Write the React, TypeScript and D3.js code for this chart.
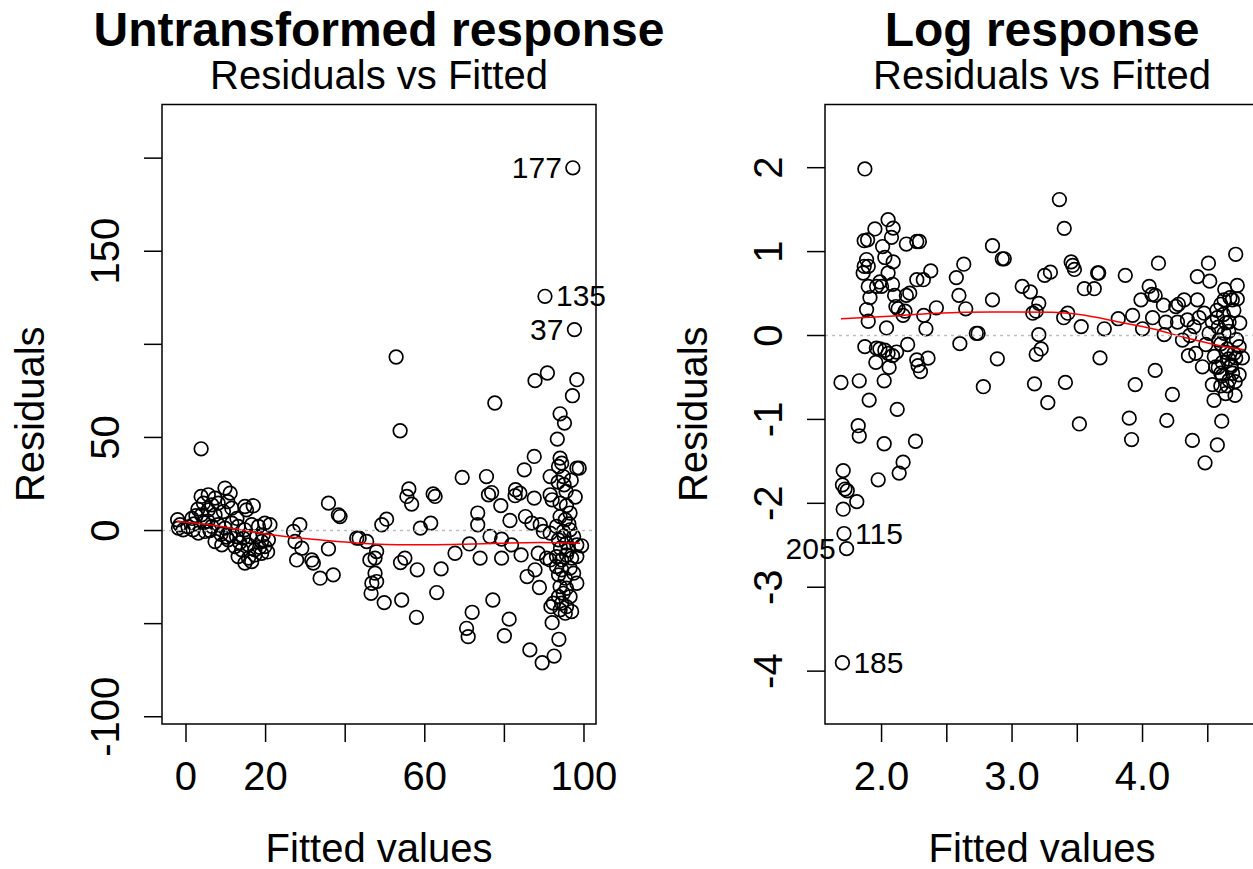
import React, { useEffect, useRef } from "react";
import * as d3 from "d3";

const FONT = '"Liberation Sans", Arial, Helvetica, sans-serif';

// Untransformed model: [fitted, residual]
const rawPoints: [number, number][] = [
  [-2.1, 5.8], [-1.5, 3.1], [-1.9, 1.3], [-0.7, 0.4], [3.8, 43.9],
  [3.8, 18.3], [5.6, 19.2], [7.3, 17.4], [9.8, 22.8], [11.1, 20.1], [4.4, 14.7], [6.5, 13.8],
  [8.1, 14.7], [5.6, 11.1], [3.9, 8.4], [7.3, 8.4], [9.4, 10.2], [11.5, 12.0], [14.8, 12.9],
  [16.9, 13.3], [15.2, 11.1], [1.8, 0.4], [3.1, -1.4], [4.8, -0.5], [6.5, 2.2], [8.1, 3.1],
  [9.8, 1.3], [11.5, 4.0], [13.1, 2.2], [14.8, 0.4], [16.5, 3.1], [18.2, 2.2], [19.8, 4.0],
  [21.1, 3.1], [7.3, -5.9], [9.0, -7.7], [10.6, -5.0], [12.3, -8.6], [14.0, -10.4], [15.7, -7.7],
  [17.3, -10.4], [19.0, -5.9], [19.8, -8.6], [13.1, -14.0], [15.7, -14.8], [17.3, -13.1],
  [19.0, -12.2], [16.5, -16.7], [14.8, -17.5], [11.1, -2.3], [12.7, -3.2], [14.4, -4.1],
  [16.1, -3.2], [17.8, -3.2], [19.4, -2.3], [20.7, -5.0], [1.5, 6.5], [2.5, 8.0], [0.5, 2.0],
  [2.0, 3.5], [5.5, 5.0], [6.0, 0.0], [8.8, -2.0], [10.2, -3.5], [4.5, 4.2], [3.0, 11.5],
  [10.5, 15.5], [12.8, 6.5], [13.5, -6.5], [18.5, -9.0], [20.5, -11.5],
  [27, -0.5], [28.6, 3.1], [27.4, -5.9], [29.1, -9.5], [27.8, -15.8], [31.6, -15.8], [32, -17.5],
  [33.7, -25.6], [37, -23.8], [35.8, 14.7], [38.3, 8.4], [38.7, 7.5], [35.8, -9.8], [42.9, -4.1],
  [52.8, 93.2], [53.8, 53.6], [77.6, 68.5], [87.7, 80.5], [90.8, 84.6], [98.2, 81], [97.1, 72.4],
  [94.0, 62.7], [95.1, 57.7], [93.3, 49.1], [87.5, 39.8], [85.0, 32.6], [94, 38.9], [93.6, 34.4],
  [94.4, 36.2], [98.2, 33.5], [98.8, 33.5], [91.5, 29.0], [94.8, 29], [95, 24.6], [69.4, 28.5],
  [75.5, 29.0], [56, 22.3], [55.5, 18.3], [56.7, 14.2], [62.1, 19.7], [62.6, 18.3], [76, 19.2],
  [76.8, 20.4], [79.1, 13.4], [82.8, 21.9], [82.7, 18.7], [87.5, 17.4], [91.5, 19.2], [92, 16.5],
  [94, 14.7], [95.6, 13.4], [96.5, 9.4], [94, 7.5], [95.3, 5.8], [73.3, 9.4], [73.3, 3.1],
  [81.4, 5.4], [85.3, 7.5], [86.9, 4.0], [89, 3.1], [89.8, -0.5], [91.5, -1.4], [93.1, 2.2],
  [94.8, -0.5], [96.5, 0.4], [97.4, -3.2], [93.6, -5.0], [95.6, -6.8], [98.2, -7.7], [99.4, -8.2],
  [43.5, -4.1], [45.4, -5.9], [47.9, -11.3], [46.2, -15.8], [47.5, -14.8], [47.5, -22.9],
  [46.7, -28.3], [47.9, -27.4], [46.5, -33.7], [49.8, -38.7], [54.2, -37.3], [57.9, -46.6],
  [49.2, 3.1], [50.4, 6.1], [53.9, -17.2], [55, -14.8], [58.1, -21.1], [58.9, 1.3], [61.5, 4.0],
  [64.1, -20.6], [63, -33.3], [67.6, -12.2], [71.2, -7.2], [73.9, -14.8], [76.4, -3.2],
  [79.3, -4.6], [79.3, -14.8], [81.8, -7.7], [84.2, -13.1], [88.5, -12.2], [90.6, -14.8],
  [91.5, -15.8], [77.1, -37.3], [71.9, -43.9], [70.5, -52.5], [70.9, -57.0], [81.2, -47.6],
  [80, -56.5], [85.7, -24.7], [87.7, -21.1], [88.8, -30.6], [86.4, -64.1], [89.5, -71.0],
  [92.5, -67.4], [93.7, -58.4], [92, -49.5], [91.7, -40.9], [92.3, -39.0],
  [93.1, -14.0], [94.4, -15.8], [95.6, -13.1], [96.9, -14.8], [98.2, -14.0], [93.1, -19.4],
  [94.4, -21.1], [96.5, -20.2], [93.6, -23.8], [95.3, -25.6], [97.4, -22.9], [98.2, -28.3],
  [94, -30.1], [95.6, -31.0], [94.8, -33.7], [96.5, -35.5], [93.6, -35.5], [94.4, -39.0],
  [95.6, -40.9], [96.9, -43.5], [94, -42.6], [95.3, -44.4], [94.1, -9.5], [96, -10.5],
  [95, -3], [96.2, 3.5], [97.8, 18], [95.5, 21], [93.5, 26], [96.8, 27], [83.9, 20.1],
  [97.2, 194.8], [90.2, 125.8], [97.6, 107.9],
];
const rawSmoothX = [-2.3, 6, 18.6, 31.2, 43.7, 55.5, 72.2, 89, 99];
const rawSmoothY = [4.8, 3.1, -1.4, -4.6, -6.8, -7.7, -7.2, -6.4, -6.8];
const rawIds = [
  { id: "177", f: 97.2, r: 194.8, side: "left" },
  { id: "135", f: 90.2, r: 125.8, side: "right" },
  { id: "37", f: 97.6, r: 107.9, side: "left" },
];

// Log model: [fitted, residual]
const logPoints: [number, number][] = [
  [1.872, 1.985], [1.689, -0.56], [1.829, -0.54], [1.905, -0.77], [1.821, -1.075], [1.829, -1.198],
  [1.706, -1.61], [1.70, -1.78], [1.72, -1.83], [1.737, -1.85], [1.81, -1.98], [1.706, -2.07],
  [1.712, -2.36], [1.732, -2.54], [1.70, -3.90], [1.974, -1.72], [2.02, -1.29], [2.135, -1.64],
  [2.165, -1.51], [2.12, -0.88], [2.26, -1.26],
  [1.949, 1.27], [1.867, 1.13], [1.893, 1.14], [2.05, 1.38], [2.089, 1.28], [2.076, 1.17],
  [2.008, 1.06], [2.025, 0.93], [1.885, 0.905], [1.867, 0.825], [1.859, 0.745], [1.898, 0.825],
  [2.089, 0.877], [2.05, 0.745], [1.987, 0.638], [1.962, 0.585], [2.0, 0.585], [2.084, 0.61],
  [1.898, 0.585], [1.911, 0.452], [1.885, 0.309], [1.898, 0.17], [2.038, 0.09], [2.19, 1.09],
  [2.27, 1.12], [2.29, 1.12], [2.10, 0.478], [2.11, 0.345], [2.127, 0.318], [2.18, 0.29],
  [2.165, 0.24], [2.19, 0.478], [2.216, 0.505], [2.27, 0.665], [2.32, 0.665], [2.377, 0.77],
  [2.323, 0.24], [2.34, 0.08], [2.42, 0.33],
  [1.872, -0.133], [1.96, -0.15], [1.987, -0.16], [2.025, -0.176], [2.05, -0.213], [2.084, -0.24],
  [1.956, -0.32], [2.02, -0.54], [2.058, -0.38], [2.115, -0.197], [2.2, -0.107], [2.27, -0.29],
  [2.28, -0.36], [2.298, -0.43], [2.356, -0.27],
  [2.573, 0.69], [2.63, 0.85], [2.593, 0.478], [2.645, 0.318], [2.6, -0.097], [2.726, 0.026],
  [2.74, 0.026], [2.85, 1.07], [2.925, 0.914], [2.94, 0.914], [2.85, 0.425], [2.78, -0.61],
  [2.887, -0.278],
  [3.078, 0.585], [3.14, 0.52], [3.205, 0.383], [3.159, 0.266], [3.185, 0.29], [3.205, 0.01],
  [3.223, -0.16], [3.185, -0.224], [3.172, -0.576], [3.274, -0.8], [3.25, 0.717], [3.294, 0.755],
  [3.363, 1.62], [3.40, 1.277], [3.453, 0.877], [3.465, 0.835], [3.478, 0.787], [3.396, 0.212],
  [3.427, 0.266], [3.53, 0.106], [3.409, -0.559], [3.516, -1.054], [3.554, 0.558], [3.63, 0.558],
  [3.656, 0.745], [3.664, 0.745], [3.707, 0.08], [3.674, -0.267], [3.814, 0.2], [3.868, 0.717],
  [3.924, 0.24], [3.944, -0.585], [3.898, -0.985], [3.916, -1.24],
  [4.0, 0.08], [3.988, 0.425], [4.051, 0.585], [4.072, 0.489], [4.097, 0.478], [4.077, 0.212],
  [4.122, 0.862], [4.16, 0.361], [4.166, 0.01], [4.179, 0.16], [4.097, -0.416], [4.186, -1.012],
  [4.229, -0.703],
  [4.255, 0.345], [4.275, 0.372], [4.319, 0.425], [4.344, 0.186], [4.362, 0.0], [4.352, -0.24],
  [4.382, -1.25], [4.42, 0.702], [4.42, 0.425], [4.433, 0.212], [4.505, 0.862], [4.515, 0.648],
  [4.479, -1.517], [4.573, -1.304], [4.607, -1.021], [4.714, 0.968], [4.726, 0.596], [4.726, 0.436],
  [4.745, 0.149], [4.74, -0.468], [4.709, -0.714], [4.535, -0.585], [4.548, -0.772], [4.459, -0.373],
  [4.408, -0.213], [4.485, -0.107], [4.51, 0.026], [4.573, 0.212], [4.6, 0.372], [4.625, 0.425],
  [4.688, 0.425], [4.663, 0.16], [4.625, 0.026], [4.586, -0.054], [4.65, -0.16], [4.701, -0.213],
  [4.612, -0.32], [4.561, -0.373], [4.676, -0.373], [4.612, -0.479], [4.663, -0.533], [4.637, -0.692],
  [4.714, -0.267], [4.74, -0.133], [4.765, -0.267], [4.535, 0.16], [4.472, 0.266], [4.395, 0.106],
  [4.306, -0.054], [4.268, 0.16],
  [4.58, 0.1], [4.6, -0.1], [4.62, 0.25], [4.64, -0.2], [4.66, 0.05], [4.68, -0.35], [4.7, 0.3],
  [4.72, -0.05], [4.6, -0.45], [4.65, -0.6], [4.69, -0.45], [4.57, 0.3], [4.63, 0.55], [4.67, 0.45],
  [4.55, -0.25], [4.71, -0.55], [4.6, -0.6], [4.64, 0.15], [4.58, -0.38], [4.66, -0.28],
];
const logSmoothX = [1.689, 1.986, 2.42, 2.853, 3.312, 3.516, 3.822, 4.077, 4.332, 4.586, 4.777];
const logSmoothY = [0.2, 0.223, 0.266, 0.281, 0.276, 0.249, 0.16, 0.08, -0.027, -0.118, -0.17];
const logIds = [
  { id: "115", f: 1.712, r: -2.36, side: "right" },
  { id: "205", f: 1.732, r: -2.54, side: "left" },
  { id: "185", f: 1.70, r: -3.9, side: "right" },
];

const rawXTicks = [0, 20, 40, 60, 80, 100];
const rawXLabels = ["0", "20", "", "60", "", "100"];
const rawYTicks = [-100, -50, 0, 50, 100, 150, 200];
const rawYLabels = ["-100", "", "0", "50", "", "150", ""];
const logXTicks = [2.0, 2.5, 3.0, 3.5, 4.0, 4.5];
const logXLabels = ["2.0", "", "3.0", "", "4.0", ""];
const logYTicks = [-4, -3, -2, -1, 0, 1, 2];
const logYLabels = ["-4", "-3", "-2", "-1", "0", "1", "2"];

const panels = [
  {
    title: "Untransformed response", left: 162,
    xDomain: [-6.03, 103.02], yDomain: [-103.9, 228.8],
    points: rawPoints, smoothX: rawSmoothX, smoothY: rawSmoothY, ids: rawIds,
    xTicks: rawXTicks, xLabels: rawXLabels, yTicks: rawYTicks, yLabels: rawYLabels,
  },
  {
    title: "Log response", left: 825,
    xDomain: [1.5665, 4.8925], yDomain: [-4.63, 2.753],
    points: logPoints, smoothX: logSmoothX, smoothY: logSmoothY, ids: logIds,
    xTicks: logXTicks, xLabels: logXLabels, yTicks: logYTicks, yLabels: logYLabels,
  },
];

function drawPanel(svg: any, p: any) {
  const top = 104.5, bottom = 724, width = 434, tick = 18;
  const x = d3.scaleLinear().domain(p.xDomain).range([p.left, p.left + width]);
  const y = d3.scaleLinear().domain(p.yDomain).range([bottom, top]);
  const cx = p.left + width / 2;
  const g = svg.append("g").attr("font-family", FONT);

  // titles
  g.append("text").attr("x", cx).attr("y", 46).attr("text-anchor", "middle")
    .attr("font-size", 48).attr("font-weight", "bold").text(p.title);
  g.append("text").attr("x", cx).attr("y", 89).attr("text-anchor", "middle")
    .attr("font-size", 40).text("Residuals vs Fitted");

  // points
  g.selectAll("circle.pt").data(p.points).enter().append("circle")
    .attr("class", "pt")
    .attr("cx", (d: number[]) => x(d[0])).attr("cy", (d: number[]) => y(d[1]))
    .attr("r", 6.8).attr("fill", "none").attr("stroke", "#000").attr("stroke-width", 1.7);

  // smoother
  const line = d3.line<number>()
    .x((d, i) => x(p.smoothX[i])).y(d => y(d))
    .curve(d3.curveMonotoneX);
  g.append("path").attr("d", line(p.smoothY)).attr("fill", "none")
    .attr("stroke", "#ff0000").attr("stroke-width", 1.5);

  // zero line
  g.append("line").attr("x1", p.left).attr("x2", p.left + width)
    .attr("y1", y(0)).attr("y2", y(0))
    .attr("stroke", "#bebebe").attr("stroke-width", 1.5).attr("stroke-dasharray", "3,4");

  // id labels
  g.selectAll("text.id").data(p.ids).enter().append("text")
    .attr("class", "id")
    .attr("x", (d: any) => x(d.f) + (d.side === "left" ? -11 : 11))
    .attr("y", (d: any) => y(d.r) + 10)
    .attr("text-anchor", (d: any) => (d.side === "left" ? "end" : "start"))
    .attr("font-size", 30).text((d: any) => d.id);

  // box
  g.append("rect").attr("x", p.left).attr("y", top).attr("width", width)
    .attr("height", bottom - top).attr("fill", "none")
    .attr("stroke", "#000").attr("stroke-width", 1.5);

  // x axis
  g.selectAll("line.xt").data(p.xTicks).enter().append("line")
    .attr("x1", (d: number) => x(d)).attr("x2", (d: number) => x(d))
    .attr("y1", bottom).attr("y2", bottom + tick)
    .attr("stroke", "#000").attr("stroke-width", 1.5);
  g.selectAll("text.xl").data(p.xTicks).enter().append("text")
    .attr("x", (d: number) => x(d)).attr("y", 790)
    .attr("text-anchor", "middle").attr("font-size", 40)
    .text((d: number, i: number) => p.xLabels[i]);
  g.append("text").attr("x", cx).attr("y", 862).attr("text-anchor", "middle")
    .attr("font-size", 40).text("Fitted values");

  // y axis
  g.selectAll("line.yt").data(p.yTicks).enter().append("line")
    .attr("x1", p.left - tick).attr("x2", p.left)
    .attr("y1", (d: number) => y(d)).attr("y2", (d: number) => y(d))
    .attr("stroke", "#000").attr("stroke-width", 1.5);
  g.selectAll("text.yl").data(p.yTicks).enter().append("text")
    .attr("transform", (d: number) => `translate(${p.left - 43},${y(d)}) rotate(-90)`)
    .attr("text-anchor", "middle").attr("font-size", 40)
    .text((d: number, i: number) => p.yLabels[i]);
  g.append("text")
    .attr("transform", `translate(${p.left - 118},${(top + bottom) / 2}) rotate(-90)`)
    .attr("text-anchor", "middle").attr("font-size", 40).text("Residuals");
}

export default function App() {
  const ref = useRef<SVGSVGElement>(null);
  useEffect(() => {
    const svg = d3.select(ref.current);
    svg.selectAll("*").remove();
    panels.forEach(p => drawPanel(svg, p));
  }, []);
  return (
    <svg ref={ref} width={1253} height={869}
      style={{ position: "absolute", left: 0, top: 0, background: "#fff" }} />
  );
}
